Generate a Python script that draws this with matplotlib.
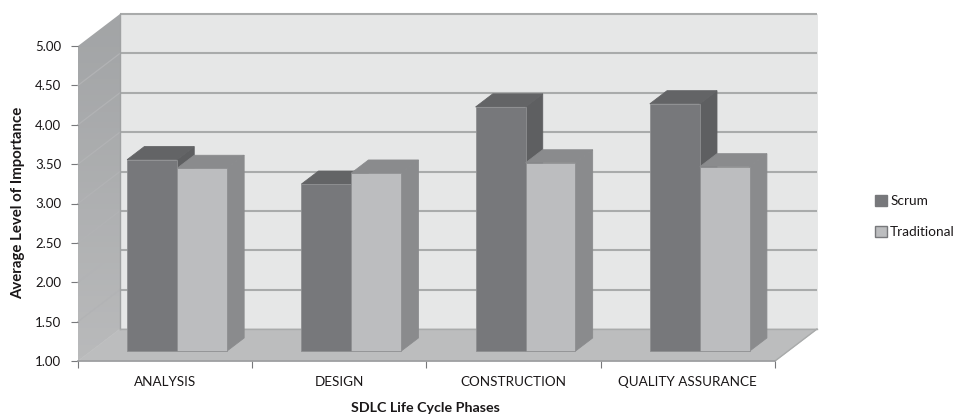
import numpy as np
import matplotlib
matplotlib.use("Agg")
import matplotlib.pyplot as plt
from matplotlib.patches import Polygon, Patch

phases = ["ANALYSIS", "DESIGN", "CONSTRUCTION", "QUALITY ASSURANCE"]
scrum = [3.43, 3.12, 4.10, 4.14]
traditional = [3.32, 3.26, 3.39, 3.34]
y_ticks = [1.0, 1.5, 2.0, 2.5, 3.0, 3.5, 4.0, 4.5, 5.0]

plt.rcParams["font.family"] = ["Lato", "DejaVu Sans"]

W, H = 954, 416
# depth of the fake 3d box, in data units
DX = 42 / 174.25
DY = 32 / 78.75
Z0, Z1 = 0.31, 0.72
BAR_W = 0.2865
OFFS = [0.207, 0.4935]
TXT = "#1a1718"


def proj(x, v, z):
    return (x + z * DX, v + z * DY)


def poly(ax, pts, color, edge=None, z=2, lw=0.6):
    ax.add_patch(Polygon(pts, closed=True, facecolor=color, edgecolor=edge or color,
                         linewidth=lw, zorder=z, clip_on=False))


def bar3d(ax, x, val, front, top, side, z):
    x2 = x + BAR_W
    poly(ax, [proj(x2, 1, Z0), proj(x2, 1, Z1), proj(x2, val, Z1), proj(x2, val, Z0)], side, z=z)
    poly(ax, [proj(x, val, Z0), proj(x, val, Z1), proj(x2, val, Z1), proj(x2, val, Z0)], top, z=z)
    poly(ax, [proj(x, 1, Z0), proj(x2, 1, Z0), proj(x2, val, Z0), proj(x, val, Z0)], front,
         edge="#8e8f91", z=z + 0.1)


fig = plt.figure(figsize=(W / 100, H / 100), dpi=100)
ax = fig.add_axes([78 / W, 1 - 361 / H, (775 - 78) / W, (361 - 46) / H])
ax.set_xlim(0, 4)
ax.set_ylim(1, 5)
ax.patch.set_visible(False)

# back wall, floor
poly(ax, [proj(0, 1, 1), proj(4, 1, 1), proj(4, 5, 1), proj(0, 5, 1)], "#e6e7e7", z=1)
poly(ax, [proj(0, 1, 0), proj(4, 1, 0), proj(4, 1, 1), proj(0, 1, 1)], "#bcbdbe", z=1.5)

# left wall with a soft gradient
wall = Polygon([proj(0, 1, 0), proj(0, 1, 1), proj(0, 5, 1), proj(0, 5, 0)], closed=True,
               transform=ax.transData, facecolor="none", edgecolor="none")
ax.add_patch(wall)
grad = np.linspace(0, 1, 64).reshape(-1, 1)
cm = matplotlib.colors.LinearSegmentedColormap.from_list("w", ["#b9babb", "#a2a4a6"])
im = ax.imshow(grad, extent=(0, DX, 1, 5 + DY), origin="lower", cmap=cm, aspect="auto",
               zorder=1.2)
im.set_clip_box(fig.bbox)
im.set_clip_path(wall)
ax.set_xlim(0, 4)
ax.set_ylim(1, 5)

# gridlines on back wall and left wall
for t in y_ticks[1:]:
    xa, ya = proj(0, t, 1)
    xb, yb = proj(4, t, 1)
    ax.plot([xa, xb], [ya, yb], color="#a9abab", lw=1.5, zorder=1.6, clip_on=False,
            solid_capstyle="butt")
    if t < 5:
        x0, y0 = proj(0, t, 0)
        ax.plot([x0, xa], [y0, ya], color="#b2b3b5", lw=0.9, zorder=1.6, clip_on=False)
ax.plot(*zip(proj(0, 1, 1), proj(0, 5, 1)), color="#a0a2a3", lw=1.0, zorder=1.6, clip_on=False)
ax.plot(*zip(proj(0, 1, 1), proj(4, 1, 1)), color="#a9abab", lw=1.0, zorder=1.6, clip_on=False)
ax.plot(*zip(proj(4, 1, 0), proj(4, 1, 1)), color="#a9abab", lw=1.0, zorder=1.6, clip_on=False)

for i in range(len(phases)):
    bar3d(ax, i + OFFS[0], scrum[i], "#77787b", "#636466", "#5e5f61", 3 + i * 0.5)
    bar3d(ax, i + OFFS[1], traditional[i], "#bcbdbf", "#8a8b8d", "#8a8b8d", 3.2 + i * 0.5)

for s in ["top", "right", "left"]:
    ax.spines[s].set_visible(False)
ax.spines["bottom"].set_color("#9c9d9f")
ax.spines["bottom"].set_linewidth(1.2)
ax.spines["bottom"].set_zorder(8)

ax.set_yticks(y_ticks)
ax.set_yticklabels(["%.2f" % t for t in y_ticks], fontsize=9.5, color=TXT)
ax.tick_params(axis="y", length=5, width=0.8, color="#77787b", pad=7)
ax.set_xticks(range(5))
ax.set_xticklabels([])
ax.set_xticks(np.arange(len(phases)) + 0.5, minor=True)
ax.set_xticklabels(phases, minor=True, fontsize=9.7, color=TXT)
ax.tick_params(axis="x", which="major", length=5, width=0.8, color="#77787b")
ax.tick_params(axis="x", which="minor", length=0, pad=11)

fig.text(425 / W, 1 - 408 / H, "SDLC Life Cycle Phases", ha="center", va="center",
         fontsize=10.3, fontweight="bold", color=TXT)
fig.text(18 / W, 1 - 203 / H, "Average Level of Importance", ha="center", va="center",
         rotation=90, fontsize=10.8, fontweight="bold", color=TXT)

handles = [Patch(facecolor="#77787b", edgecolor="#77787b", label="Scrum"),
           Patch(facecolor="#bcbdbf", edgecolor="#77787b", label="Traditional")]
fig.legend(handles=handles, loc="center left", bbox_to_anchor=(868 / W, 1 - 216.5 / H), frameon=False,
           fontsize=9.8, handlelength=0.85, handleheight=0.85, handletextpad=0.22,
           labelspacing=1.4, labelcolor=TXT, borderpad=0, borderaxespad=0.55)

fig.savefig("out.png", dpi=100)
